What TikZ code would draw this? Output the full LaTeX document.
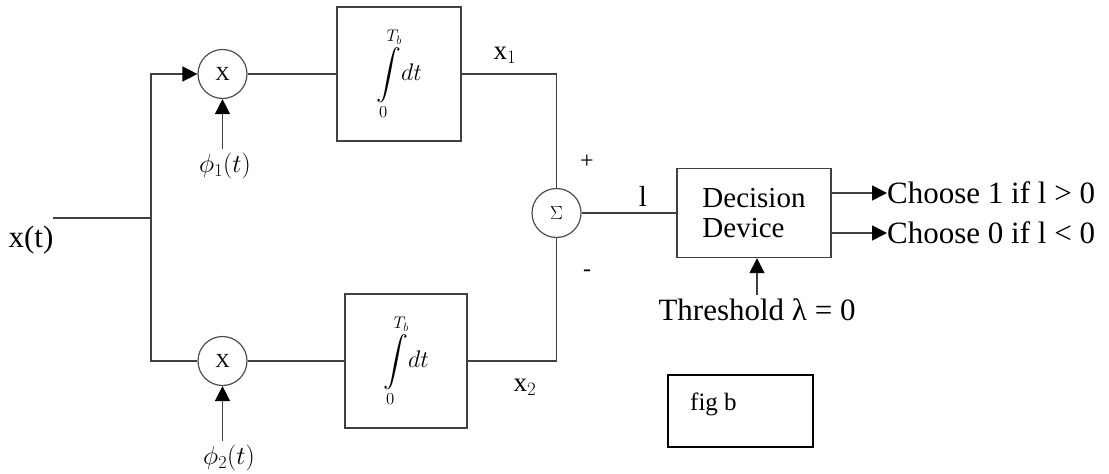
\RequirePackage{fix-cm}
\documentclass[tikz,border=0pt]{standalone}
\usepackage{amsmath}
\usepackage{fontspec}
\setmainfont{Liberation Serif}
\usetikzlibrary{
    positioning,
    arrows.meta,
    calc
  }
\tikzstyle{blk}=[rectangle,draw=black!75,line width=1.4pt,inner sep=0pt]
\tikzstyle{opc}=[circle,draw=black!70,line width=1.2pt,minimum size=49pt,inner sep=0pt,font=\fontsize{20}{22}\selectfont]
\tikzstyle{wire}=[draw=black!75,line width=1.5pt]
\tikzstyle{arr}=[wire,-{Triangle[length=15pt,width=15pt,fill=black,color=black]}]
\tikzstyle{big}=[font=\fontsize{29}{30}\selectfont]
\tikzstyle{huge}=[font=\fontsize{31}{32}\selectfont]
\newcommand{\intbox}{\fontsize{24}{28}\selectfont$\displaystyle\int\limits_{0}^{T_b}\!dt$\hspace{22pt}}

\begin{document}
\begin{tikzpicture}[x=1pt,y=-1pt]
\useasboundingbox (0,0) rectangle (1109,474);
% input and the two branches
\node[huge] (xin) at (31,240) {x(t)};
\coordinate (xs) at (53,218);
\coordinate (split) at (151,218);
\node[opc] (mul1) at (222.5,74) {X};
\node[opc] (mul2) at (222.5,361) {X};
\node[font=\fontsize{26}{30}\selectfont] (phi1) at (225,166) {$\phi_1(t)$};
\node[font=\fontsize{26}{30}\selectfont] (phi2) at (229,458) {$\phi_2(t)$};
\node[blk,minimum width=124pt,minimum height=134pt] (int1) at (399,74) {\intbox};
\node[blk,minimum width=122pt,minimum height=134pt] (int2) at (406,361) {\intbox};
\node[font=\fontsize{27}{30}\selectfont] (x1) at (505,55) {x$_1$};
\node[font=\fontsize{27}{30}\selectfont] (x2) at (525,387) {x$_2$};
% sum and decision
\node[opc,font=\fontsize{19}{20}\selectfont] (sum) at (556.5,213) {$\Sigma$};
\node[font=\fontsize{24}{26}\selectfont] (plus) at (587,162) {+};
\node[font=\fontsize{24}{26}\selectfont] (minus) at (587,273) {-};
\node[big] (lval) at (643,196) {l};
\node[blk,big,align=left,minimum width=154pt,minimum height=89pt] (dec) at (754,213) {Decision\\Device};
\node[huge,anchor=west,inner sep=0pt] (ch1) at (887,193) {Choose 1 if l > 0};
\node[huge,anchor=west,inner sep=0pt] (ch0) at (887,233) {Choose 0 if l < 0};
\node[huge] (thr) at (757,310) {Threshold λ = 0};
% fig label
\node[rectangle,draw=black,line width=1.6pt,minimum width=145pt,minimum height=72pt] (figb) at (740.5,411) {};
\node[font=\fontsize{25}{28}\selectfont,anchor=base west,inner sep=0pt] (figlbl) at (690,410) {fig b};
% connectors
\draw[wire] (xs) -- (split);
\draw[arr] (split) |- (mul1);
\draw[wire] (split) |- (mul2);
\draw[arr] (mul1.south |- phi1.north) -- (mul1.south);
\draw[arr] (mul2.south |- phi2.north) -- (mul2.south);
\draw[wire] (mul1) -- (int1);
\draw[wire] (mul2) -- (int2);
\draw[wire] (int1) -| (sum);
\draw[wire] (int2) -| (sum);
\draw[wire] (sum) -- (dec);
\draw[arr] (dec.east |- ch1.west) -- (ch1.west);
\draw[arr] (dec.east |- ch0.west) -- (ch0.west);
\draw[arr] (thr.north) -- (thr.north |- dec.south);
\end{tikzpicture}
\end{document}
